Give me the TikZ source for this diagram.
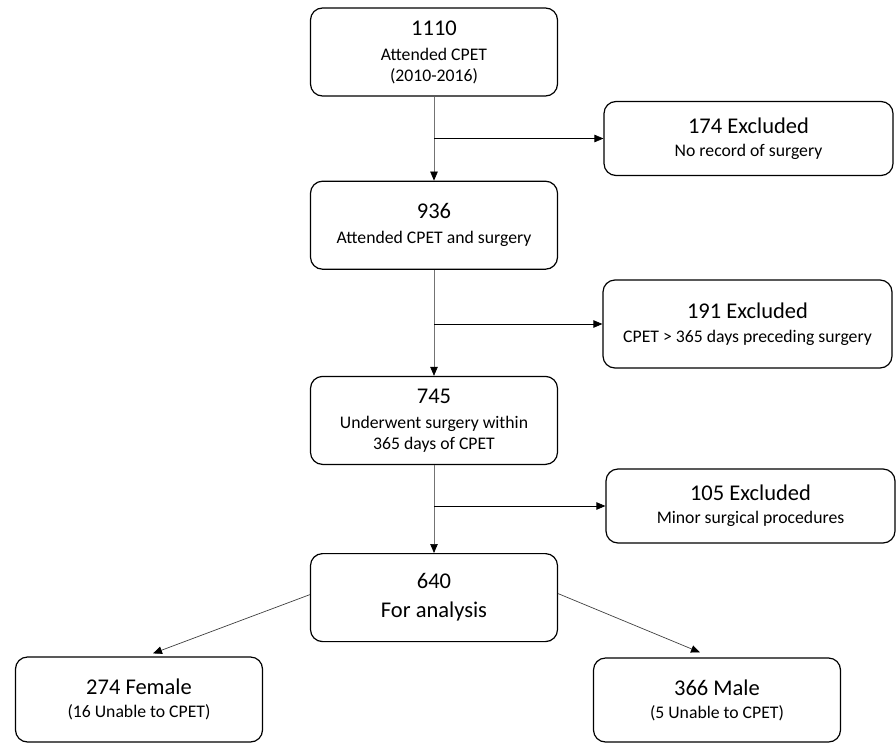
\documentclass[tikz,border=0pt]{standalone}
\usepackage{fontspec}
\setmainfont{Carlito}
\usepackage{tikz}
\usetikzlibrary{arrows.meta,positioning,calc}
\newcommand\ttl{\fontsize{22.5}{27}\selectfont}
\newcommand\bdy{\fontsize{17.7}{21}\selectfont}

\begin{document}
\begin{tikzpicture}[x=1pt,y=1pt,>={Triangle[length=9pt,width=7.5pt,color=black]},
  box/.style={draw,line width=1.2pt,rounded corners=12pt,align=center,minimum width=247pt,minimum height=88pt,inner sep=0pt,font=\bdy},
  side/.style={box,minimum width=289pt,minimum height=74pt},
  flow/.style={->,line width=0.7pt,draw=black!55},
  link/.style={->,line width=0.7pt}]
  \useasboundingbox (0,0) rectangle (896,-744);
  \node[box] (attended) at (434,-52) {{\ttl 1110}\\[4pt]Attended CPET\\(2010-2016)};
  \node[box,below=84pt of attended] (surgery) {{\ttl 936}\\[4pt]Attended CPET and surgery};
  \node[box,below=106pt of surgery] (within) {{\ttl 745}\\[4pt]Underwent surgery within\\365 days of CPET};
  \node[box,below=88pt of within,font=\ttl] (analysis) {640\\[2pt]For analysis};
  \node[side] (norecord) at (748.5,-138.5) {{\ttl 174 Excluded}\\[2pt]No record of surgery};
  \node[side,minimum height=88pt] (preceding) at (747.5,-324) {{\ttl 191 Excluded}\\[3pt]CPET > 365 days preceding surgery};
  \node[side] (minor) at (750.5,-506) {{\ttl 105 Excluded}\\[2pt]Minor surgical procedures};
  \node[box,minimum height=85pt] (female) at (139,-699.5) {{\ttl 274 Female}\\[2pt](16 Unable to CPET)};
  \node[box,minimum height=84pt] (male) at (717,-700) {{\ttl 366 Male}\\[2pt](5 Unable to CPET)};
  \coordinate (fork1) at (attended.south |- norecord.west);
  \coordinate (fork2) at (surgery.south |- preceding.west);
  \coordinate (fork3) at (within.south |- minor.west);
  \draw[flow] (attended) -- (surgery);
  \draw[flow] (surgery) -- (within);
  \draw[flow] (within) -- (analysis);
  \draw[link] (fork1) -- (norecord);
  \draw[link] (fork2) -- (preceding);
  \draw[link] (fork3) -- (minor);
  \draw[flow,draw=black!75] ([yshift=3pt]analysis.west) -- ([xshift=14pt,yshift=3pt]female.north);
  \draw[flow,draw=black!75] ([yshift=4pt]analysis.east) -- ([xshift=-17pt,yshift=5pt]male.north);
\end{tikzpicture}
\end{document}
